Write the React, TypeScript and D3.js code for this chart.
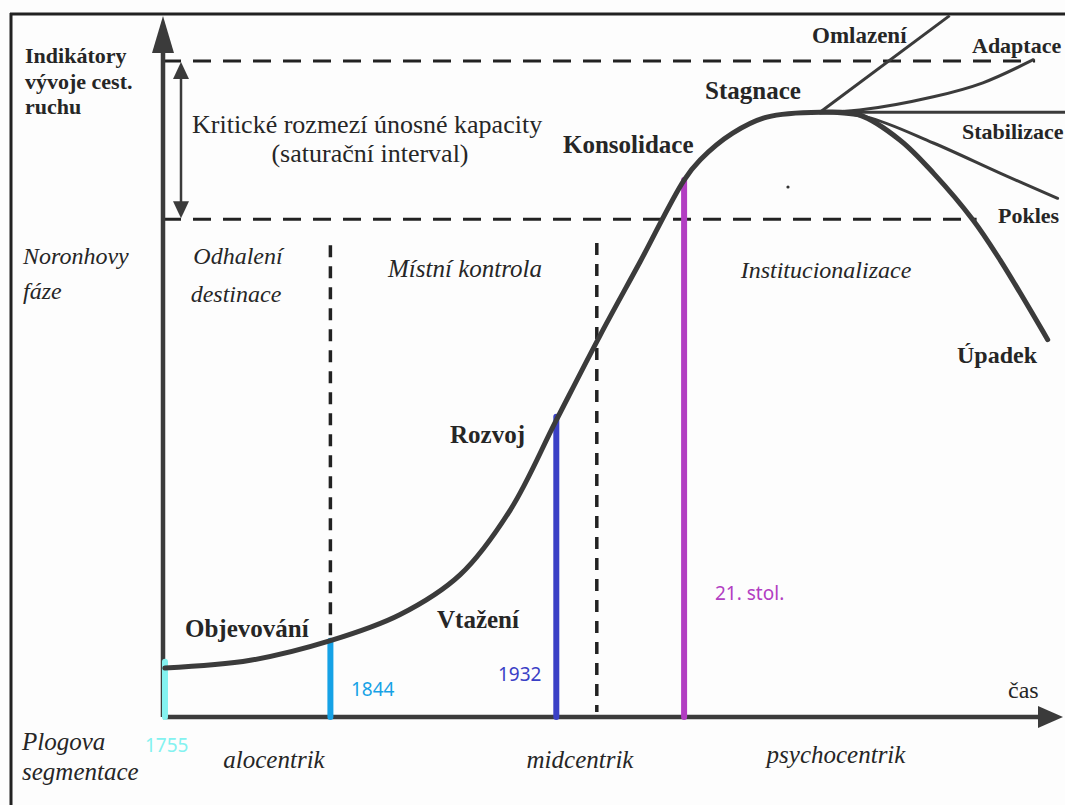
import React from 'react';
import * as d3 from 'd3';

// Butlerův model životního cyklu destinace — t = čas (0–100), v = indikátor (0–100)
const mainT = [0.2, 9.7, 18.6, 26.3, 33, 38.6, 43.7, 48.6, 53, 57.9, 59.7, 63.3, 67.1, 73, 77.4, 81.9, 85.6, 90, 93, 98.3];
const mainV = [7, 8.1, 10.9, 14.6, 20.3, 29.6, 42.4, 54.6, 65, 76.7, 79.6, 83.4, 85.7, 86.4, 86, 82.4, 77.7, 71, 65.3, 53.9];

const omlazeniT = [73, 87.4];
const omlazeniV = [86.4, 100.2];
const adaptaceT = [73, 77.4, 85.6, 91.1, 96.7];
const adaptaceV = [86.4, 86.7, 88.6, 90.6, 93.9];
const stabilizaceT = [73, 100.5];
const stabilizaceV = [86.4, 86.4];
const poklesT = [73, 78.2, 85.6, 93, 99.4];
const poklesV = [86.3, 85.7, 82, 77.7, 74.1];

// kritické rozmezí únosné kapacity
const capacityUpper = 93.7;
const capacityLower = 71.1;

// hranice Noronhových fází
const phaseBreaksT = [18.6, 48.2];
const phaseBreakTop = [67.4, 67.7];
const phaseBreakBottom = [11.4, 0.7];

// milníky
const milestoneLabels = ['1755', '1844', '1932', '21. stol.'];
const milestoneT = [0.22, 18.6, 43.7, 57.9];
const milestoneV = [7.9, 10.9, 42.9, 76.7];
const milestoneColors = ['#84f2f0', '#16a2e6', '#3a40c6', '#b23ec2'];

const stageLabels = ['Objevování', 'Vtažení', 'Rozvoj', 'Konsolidace', 'Stagnace', 'Omlazení', 'Adaptace', 'Stabilizace', 'Pokles', 'Úpadek'];
const phaseLabels = ['Místní kontrola', 'Institucionalizace'];
const plogLabels = ['alocentrik', 'midcentrik', 'psychocentrik'];

const W = 1065;
const H = 805;

const x = d3.scaleLinear().domain([0, 100]).range([163, 1063]);
const y = d3.scaleLinear().domain([0, 100]).range([717, 17]);

const toPts = (ts: number[], vs: number[]) => ts.map((t, i) => [t, vs[i]] as [number, number]);

const curve = d3.line<[number, number]>()
  .x(d => x(d[0]))
  .y(d => y(d[1]))
  .curve(d3.curveCatmullRom.alpha(0.5));

const INK = '#3b3b3b';
const SERIF = 'Liberation Serif';
const SANS = 'Noto Sans';
const TXT = '#262626';

const App: React.FC = () => {
  const bold = { fontFamily: SERIF, fontWeight: 700, fill: TXT };
  const ital = { fontFamily: SERIF, fontStyle: 'italic', fontSize: 24, fill: TXT };
  const reg = { fontFamily: SERIF, fontSize: 26, fill: TXT };

  // pozice popisků (px) a velikost písma
  const stagePos: [number, number, number][] = [
    [185, 637, 25], [437, 628, 25], [450, 443, 25], [563, 153, 25], [705, 99, 25],
    [812, 43, 23], [972, 53, 22], [962, 139, 22], [998, 223, 22], [957, 363, 24],
  ];
  const phasePos: [number, number][] = [[465, 277], [826, 278]];
  const plogPos: [number, number][] = [[274, 768], [580, 768], [836, 763]];
  const msPos: [number, number][] = [[145, 752], [351, 696], [498, 681], [715, 600]];

  const axisX = x(0);
  const axisY = y(0);
  const arrowX = x(2);

  return (
    <div style={{ position: 'absolute', left: 0, top: 0 }}>
      <svg width={W} height={H} viewBox={`0 0 ${W} ${H}`} style={{ display: 'block', background: '#fdfdfd' }}>
        {/* rámeček */}
        <line x1={10} y1={14} x2={W} y2={14} stroke="#222" strokeWidth={3} />
        <line x1={11} y1={13} x2={11} y2={H} stroke="#222" strokeWidth={3} />

        {/* kritické rozmezí */}
        <line x1={axisX} x2={x(96.9)} y1={y(capacityUpper)} y2={y(capacityUpper)} stroke="#222" strokeWidth={3} strokeDasharray="18 12" />
        <line x1={axisX} x2={x(90.4)} y1={y(capacityLower)} y2={y(capacityLower)} stroke="#222" strokeWidth={3} strokeDasharray="18 12" />
        <line x1={arrowX} x2={arrowX} y1={y(capacityUpper) + 14} y2={y(capacityLower) - 14} stroke={INK} strokeWidth={2.5} />
        <path d={`M${arrowX},${y(capacityUpper) + 1} l-8,17 l16,0 z`} fill={INK} />
        <path d={`M${arrowX},${y(capacityLower) - 1} l-8,-17 l16,0 z`} fill={INK} />

        {/* hranice fází */}
        {phaseBreaksT.map((t, i) => (
          <line key={i} x1={x(t)} x2={x(t)} y1={y(phaseBreakTop[i])} y2={y(phaseBreakBottom[i])}
            stroke="#222" strokeWidth={3.5} strokeDasharray="12 9" />
        ))}

        {/* osy */}
        <line x1={axisX} x2={axisX} y1={axisY} y2={44} stroke={INK} strokeWidth={4.5} />
        <path d={`M${axisX},16 l-11,37 l22,0 z`} fill={INK} />
        <line x1={axisX} x2={1042} y1={axisY} y2={axisY} stroke={INK} strokeWidth={4.5} />
        <path d={`M1063,${axisY} l-25,-11 l0,22 z`} fill={INK} />

        {/* milníky */}
        {milestoneT.map((t, i) => (
          <line key={i} x1={x(t)} x2={x(t)} y1={y(milestoneV[i])} y2={axisY}
            stroke={milestoneColors[i]} strokeWidth={6} strokeLinecap="round" />
        ))}

        {/* větve po stagnaci */}
        <path d={curve(toPts(omlazeniT, omlazeniV)) ?? ''} fill="none" stroke={INK} strokeWidth={3} />
        <path d={curve(toPts(adaptaceT, adaptaceV)) ?? ''} fill="none" stroke={INK} strokeWidth={3} strokeLinecap="round" />
        <path d={curve(toPts(stabilizaceT, stabilizaceV)) ?? ''} fill="none" stroke={INK} strokeWidth={3} />
        <path d={curve(toPts(poklesT, poklesV)) ?? ''} fill="none" stroke={INK} strokeWidth={3} strokeLinecap="round" />

        {/* hlavní křivka */}
        <path d={curve(toPts(mainT, mainV)) ?? ''} fill="none" stroke={INK} strokeWidth={5} strokeLinecap="round" />
        <circle cx={788} cy={187} r={1.6} fill="#333" />

        {/* popisky os */}
        <text fontFamily={SERIF} fontWeight={700} fontSize={22} fill={TXT}>
          <tspan x={25} y={63}>Indikátory</tspan>
          <tspan x={25} y={89}>vývoje cest.</tspan>
          <tspan x={25} y={114}>ruchu</tspan>
        </text>
        <text {...ital}>
          <tspan x={23} y={264}>Noronhovy</tspan>
          <tspan x={23} y={299}>fáze</tspan>
        </text>
        <text {...ital} fontSize={25}>
          <tspan x={22} y={750}>Plogova</tspan>
          <tspan x={22} y={780}>segmentace</tspan>
        </text>
        <text {...reg} fontSize={24} x={1008} y={698}>čas</text>

        <text {...reg} x={192} y={133}>Kritické rozmezí únosné kapacity</text>
        <text {...reg} x={370} y={162} textAnchor="middle">(saturační interval)</text>

        {/* Noronhovy fáze */}
        <text {...ital} textAnchor="middle">
          <tspan x={238} y={264}>Odhalení</tspan>
          <tspan x={236} y={302}>destinace</tspan>
        </text>
        {phaseLabels.map((s, i) => (
          <text key={s} {...ital} fontSize={i === 0 ? 25 : 24} textAnchor="middle" x={phasePos[i][0]} y={phasePos[i][1]}>{s}</text>
        ))}

        {/* fáze cyklu */}
        {stageLabels.map((s, i) => (
          <text key={s} {...bold} fontSize={stagePos[i][2]} x={stagePos[i][0]} y={stagePos[i][1]}>{s}</text>
        ))}

        {/* Plogova segmentace */}
        {plogLabels.map((s, i) => (
          <text key={s} {...ital} fontSize={25} textAnchor="middle" x={plogPos[i][0]} y={plogPos[i][1]}>{s}</text>
        ))}

        {/* roky */}
        {milestoneLabels.map((s, i) => (
          <text key={s} x={msPos[i][0]} y={msPos[i][1]} fontFamily={SANS} fontSize={19} fill={milestoneColors[i]}>{s}</text>
        ))}
      </svg>
    </div>
  );
};

export default App;
